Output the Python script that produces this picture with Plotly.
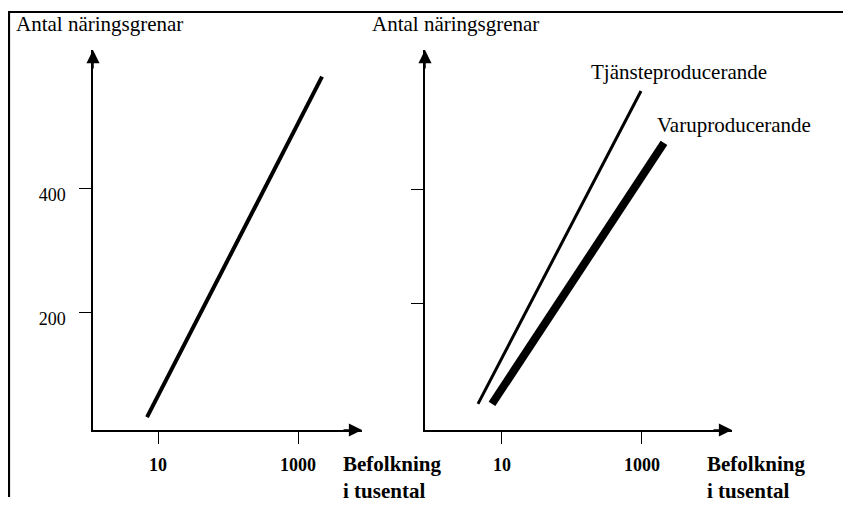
import plotly.graph_objects as go

# The page adds an 8px body margin; the figure is laid out in page pixels
# and shifted by this offset.
OFF = 8
W, H = 843, 497

# ---- data ----
left_x = [6.96, 2203]          # population (thousands), log scale
left_y = [32, 581]             # number of industries
tjanst_x = [4.54, 968]
tjanst_y = [23, 572]
varu_x = [7.2, 2061]
varu_y = [23, 481]

x_tickvals = [10, 1000]
x_ticktext = ["10", "1000"]
y_tickvals = [200, 400]
y_ticktext = ["200", "400"]

y_title = "Antal näringsgrenar"
x_title = "Befolkning<br>i tusental"
label_tjanst = "Tjänsteproducerande"
label_varu = "Varuproducerande"

FONT = "Liberation Serif"


def px(x):
    return (x - OFF) / W


def py(y):
    return (H - (y - OFF)) / H


fig = go.Figure()
fig.add_trace(go.Scatter(x=left_x, y=left_y, mode="lines",
                         line=dict(color="black", width=4),
                         xaxis="x", yaxis="y", hoverinfo="skip"))
fig.add_trace(go.Scatter(x=tjanst_x, y=tjanst_y, mode="lines",
                         line=dict(color="black", width=3),
                         xaxis="x2", yaxis="y2", hoverinfo="skip"))
fig.add_trace(go.Scatter(x=varu_x, y=varu_y, mode="lines",
                         line=dict(color="black", width=8),
                         xaxis="x2", yaxis="y2", hoverinfo="skip"))

ydom = [py(430), py(50)]

common_x = dict(type="log", showgrid=False, zeroline=False, showline=True,
                linecolor="black", linewidth=1.5, ticks="outside", ticklen=12,
                tickwidth=1.3, tickcolor="black", tickvals=x_tickvals,
                ticktext=x_ticktext,
                tickfont=dict(family=FONT, size=18, color="black", weight="bold"),
                ticklabelstandoff=6)
common_y = dict(showgrid=False, zeroline=False, showline=True,
                linecolor="black", linewidth=1.5, ticks="outside", ticklen=12,
                tickwidth=1.3, tickcolor="black", tickvals=y_tickvals,
                ticktext=y_ticktext,
                tickfont=dict(family=FONT, size=18, color="black"),
                domain=ydom)

fig.update_layout(
    width=W, height=H, margin=dict(l=0, r=0, t=0, b=0),
    paper_bgcolor="white", plot_bgcolor="white", showlegend=False,
    font=dict(family=FONT, color="black"),
    xaxis=dict(common_x, domain=[px(93), px(362)], range=[0.071, 3.914],
               anchor="y"),
    yaxis=dict(common_y, range=[11.3, 624], anchor="x",
               ticklabelstandoff=10, ticklabelshift=6),
    xaxis2=dict(common_x, domain=[px(425), px(732)], range=[-0.1, 4.286],
                anchor="y2"),
    yaxis2=dict(common_y, range=[-22.8, 643.9], anchor="x2",
                showticklabels=False),
)

# arrow heads on the axes
for xa, ya in [("x", "y"), ("x2", "y2")]:
    fig.add_annotation(x=1, y=0, xref=f"{xa} domain", yref=f"{ya} domain",
                       ax=-20, ay=0, showarrow=True, arrowhead=2,
                       arrowsize=1.75, arrowwidth=1.5, arrowcolor="black",
                       standoff=0, text="")
    fig.add_annotation(x=0, y=1, xref=f"{xa} domain", yref=f"{ya} domain",
                       ax=0, ay=20, showarrow=True, arrowhead=2,
                       arrowsize=1.75, arrowwidth=1.5, arrowcolor="black",
                       standoff=0, text="")

# texts
txt = dict(family=FONT, size=21, color="black")
fig.add_annotation(x=px(14), y=py(24), xref="paper", yref="paper",
                   xanchor="left", yanchor="middle", text=y_title,
                   showarrow=False, font=txt)
fig.add_annotation(x=px(370), y=py(24), xref="paper", yref="paper",
                   xanchor="left", yanchor="middle", text=y_title,
                   showarrow=False, font=txt)
fig.add_annotation(x=px(589), y=py(72), xref="paper", yref="paper",
                   xanchor="left", yanchor="middle", text=label_tjanst,
                   showarrow=False, font=txt)
fig.add_annotation(x=px(655), y=py(125), xref="paper", yref="paper",
                   xanchor="left", yanchor="middle", text=label_varu,
                   showarrow=False, font=txt)
for xl in (341, 705):
    fig.add_annotation(x=px(xl), y=py(477), xref="paper", yref="paper",
                       xanchor="left", yanchor="middle", align="left",
                       text=x_title, showarrow=False,
                       font=dict(family=FONT, size=21, color="black",
                                 weight="bold"))

# frame
fig.add_shape(type="line", xref="paper", yref="paper",
              x0=px(8), x1=1, y0=py(12), y1=py(12),
              line=dict(color="black", width=2.2))
fig.add_shape(type="line", xref="paper", yref="paper",
              x0=px(9), x1=px(9), y0=py(12), y1=py(497),
              line=dict(color="black", width=2.2))

fig.write_html("out.html")
